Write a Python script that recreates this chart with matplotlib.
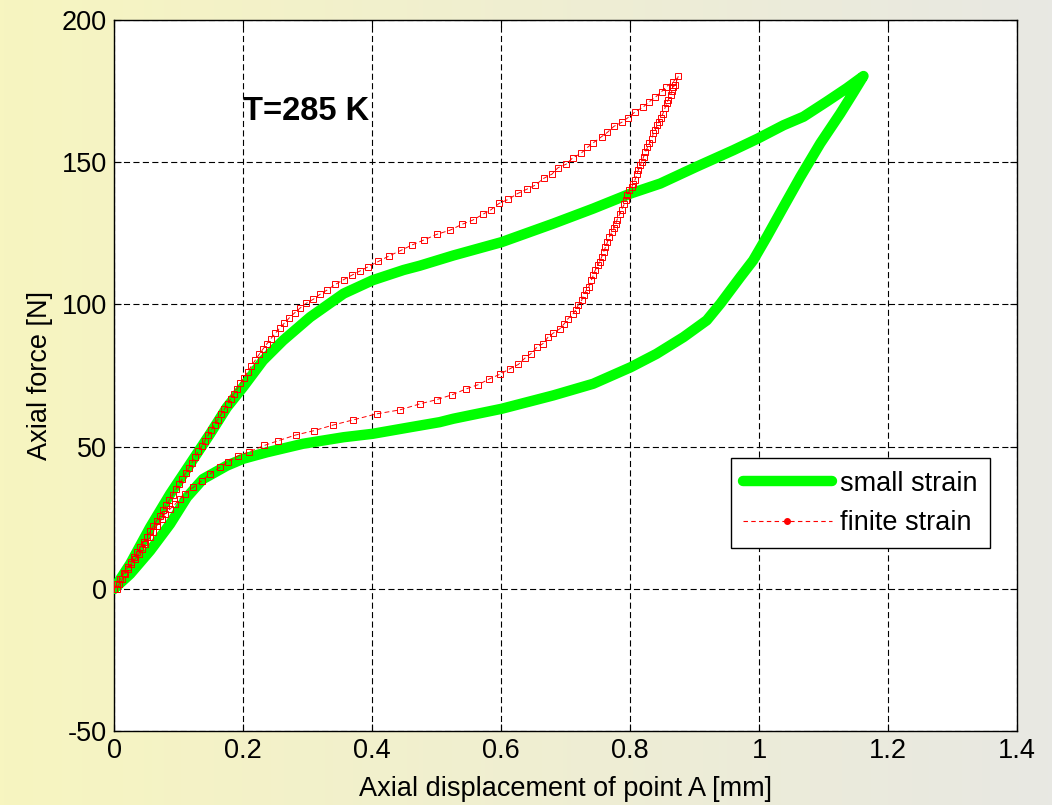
import numpy as np
import matplotlib
matplotlib.use('Agg')
import matplotlib.pyplot as plt
from matplotlib.lines import Line2D

###############################
# Data

# Small strain model, loading branch
small_load_x = [0.000, 0.025, 0.056, 0.087, 0.118, 0.149, 0.175, 0.200, 0.231,
                0.262, 0.304, 0.356, 0.401, 0.449, 0.474, 0.526, 0.601, 0.681,
                0.743, 0.801, 0.847, 0.903, 0.960, 0.998, 1.038, 1.069, 1.105,
                1.136, 1.162]
small_load_y = [0.0, 8.7, 21.6, 33.3, 43.9, 54.5, 63.8, 70.9, 80.3,
                87.3, 95.5, 103.8, 108.5, 112.1, 113.6, 117.2, 121.9, 128.4,
                133.7, 139.0, 142.5, 148.4, 154.2, 158.3, 163.0, 166.0, 171.3,
                176.0, 180.3]

# Small strain model, unloading branch
small_unload_x = [1.162, 1.145, 1.126, 1.095, 1.064, 1.038, 1.012, 0.991, 0.971,
                  0.940, 0.919, 0.883, 0.841, 0.801, 0.743, 0.681, 0.601, 0.526,
                  0.505, 0.459, 0.401, 0.356, 0.293, 0.237, 0.200, 0.175, 0.138,
                  0.113, 0.087, 0.056, 0.025, 0.000]
small_unload_y = [180.3, 174.0, 167.1, 156.6, 144.8, 134.3, 123.7, 115.5, 109.6,
                  100.2, 94.4, 88.5, 82.6, 77.9, 72.1, 68.0, 63.3, 59.8,
                  58.6, 56.8, 54.5, 53.3, 51.0, 48.0, 45.7, 43.3, 38.6,
                  32.2, 22.8, 13.4, 5.2, 0.0]

# Finite strain model, loading branch (one value per marker)
finite_load_x = [0.000, 0.005, 0.010, 0.016, 0.021, 0.026, 0.031, 0.036, 0.041,
                 0.046, 0.051, 0.056, 0.061, 0.066, 0.071, 0.076, 0.081, 0.086,
                 0.091, 0.096, 0.101, 0.106, 0.111, 0.116, 0.121, 0.126, 0.131,
                 0.136, 0.141, 0.146, 0.151, 0.156, 0.161, 0.166, 0.171, 0.176,
                 0.181, 0.186, 0.191, 0.196, 0.201, 0.207, 0.213, 0.219, 0.225,
                 0.231, 0.237, 0.243, 0.250, 0.257, 0.264, 0.272, 0.280, 0.289,
                 0.298, 0.309, 0.319, 0.330, 0.343, 0.356, 0.369, 0.381, 0.394,
                 0.410, 0.427, 0.445, 0.462, 0.480, 0.500, 0.521, 0.539, 0.556,
                 0.572, 0.584, 0.597, 0.611, 0.626, 0.640, 0.653, 0.666, 0.679,
                 0.688, 0.701, 0.711, 0.724, 0.734, 0.743, 0.756, 0.765, 0.775,
                 0.787, 0.797, 0.808, 0.820, 0.830, 0.839, 0.849, 0.856, 0.867,
                 0.875]
finite_load_y = [0.0, 1.8, 3.6, 5.7, 7.5, 9.3, 11.1, 12.9, 14.6,
                 16.4, 18.3, 20.2, 22.0, 23.9, 25.7, 27.6, 29.4, 31.3,
                 33.1, 35.0, 36.8, 38.7, 40.6, 42.5, 44.4, 46.3, 48.3,
                 50.2, 52.1, 54.0, 55.9, 57.7, 59.5, 61.3, 63.1, 65.0,
                 66.8, 68.6, 70.4, 72.2, 74.0, 76.2, 78.3, 80.4, 82.4,
                 84.3, 86.1, 87.9, 89.8, 91.7, 93.4, 95.3, 97.0, 98.8,
                 100.4, 101.8, 103.5, 105.0, 107.0, 108.7, 110.3, 111.7, 113.2,
                 115.1, 117.1, 119.0, 120.9, 122.6, 124.6, 126.1, 128.1, 129.6,
                 131.7, 133.2, 135.5, 136.9, 139.0, 140.5, 141.9, 144.3, 145.8,
                 148.0, 149.3, 151.5, 153.1, 155.2, 156.8, 159.0, 160.5, 162.6,
                 164.0, 165.7, 167.7, 169.3, 171.3, 172.8, 174.8, 176.5, 178.3,
                 180.3]

# Finite strain model, unloading branch (one value per marker)
finite_unload_x = [0.870, 0.866, 0.865, 0.863, 0.859, 0.857, 0.854, 0.851, 0.848,
                   0.845, 0.842, 0.839, 0.836, 0.834, 0.830, 0.827, 0.824, 0.821,
                   0.818, 0.816, 0.813, 0.811, 0.808, 0.805, 0.803, 0.799, 0.796,
                   0.794, 0.791, 0.787, 0.784, 0.780, 0.778, 0.775, 0.772, 0.768,
                   0.765, 0.762, 0.759, 0.756, 0.753, 0.750, 0.746, 0.743, 0.740,
                   0.736, 0.732, 0.728, 0.725, 0.720, 0.716, 0.711, 0.704, 0.698,
                   0.691, 0.681, 0.673, 0.665, 0.656, 0.646, 0.637, 0.627, 0.614,
                   0.598, 0.582, 0.565, 0.546, 0.524, 0.500, 0.474, 0.443, 0.407,
                   0.371, 0.340, 0.310, 0.282, 0.255, 0.233, 0.210, 0.193, 0.177,
                   0.164, 0.149, 0.136, 0.123, 0.110, 0.102, 0.095, 0.087, 0.079,
                   0.074, 0.066, 0.061, 0.056, 0.048, 0.043, 0.038, 0.033, 0.027,
                   0.022, 0.017, 0.013, 0.008, 0.004, 0.000]
finite_unload_y = [177.1, 176.3, 175.1, 173.6, 171.8, 170.7, 168.9, 167.1, 165.7,
                   164.2, 163.0, 161.3, 160.1, 158.3, 156.6, 155.2, 153.6, 151.9,
                   150.1, 148.9, 147.4, 146.0, 143.9, 142.5, 141.3, 140.1, 138.4,
                   136.6, 135.2, 133.3, 131.7, 129.8, 128.4, 126.7, 125.5, 123.7,
                   121.9, 120.2, 118.4, 116.7, 114.9, 113.7, 112.0, 110.2, 108.5,
                   106.1, 104.9, 103.2, 101.4, 99.9, 98.1, 96.5, 95.0, 93.2,
                   91.4, 89.9, 88.5, 86.2, 85.0, 82.6, 81.1, 78.9, 77.4,
                   75.4, 73.8, 71.8, 70.3, 68.2, 66.5, 65.0, 62.9, 61.5,
                   59.4, 57.6, 55.6, 54.1, 52.1, 50.4, 48.2, 46.8, 44.7,
                   42.7, 40.4, 38.0, 35.7, 33.3, 31.6, 29.8, 28.1, 26.3,
                   24.5, 22.2, 19.8, 18.1, 15.7, 14.0, 12.2, 10.5, 8.7,
                   6.9, 5.2, 3.4, 1.7, 0.0, 0.0]

xticks = [0, 0.2, 0.4, 0.6, 0.8, 1, 1.2, 1.4]
xticklabels = ['0', '0.2', '0.4', '0.6', '0.8', '1', '1.2', '1.4']
yticks = [-50, 0, 50, 100, 150, 200]

###############################
# Plot

plt.rcParams['font.family'] = ['Liberation Sans', 'DejaVu Sans']
plt.rcParams['axes.unicode_minus'] = False

W, H = 1052, 805
fig = plt.figure(figsize=(W/100, H/100), dpi=100)

# Gradient background (yellowish left -> grey right)
bg = fig.add_axes([0, 0, 1, 1])
left_col = np.array([247, 245, 192]) / 255.0
right_col = np.array([232, 232, 227]) / 255.0
t = np.linspace(0, 1, 256)
grad = left_col[None, :] * (1 - t[:, None]) + right_col[None, :] * t[:, None]
bg.imshow(grad[None, :, :], aspect='auto', extent=[0, 1, 0, 1])
bg.set_axis_off()

ax = fig.add_axes([114/W, (H-731)/H, 903/W, 711/H])
ax.set_facecolor('white')

ax.plot(small_load_x + small_unload_x, small_load_y + small_unload_y,
        color='#00ff00', lw=7.5, solid_capstyle='round',
        solid_joinstyle='round', zorder=3)

ax.plot(finite_load_x + finite_unload_x, finite_load_y + finite_unload_y,
        color='red', lw=0.7, ls=(0, (5, 3)), marker='s', ms=4.0,
        mfc='none', mec='red', mew=0.7, zorder=4)

ax.set_xlim(0, 1.4)
ax.set_ylim(-50, 200)
ax.set_xticks(xticks)
ax.set_xticklabels(xticklabels)
ax.set_yticks(yticks)
ax.tick_params(direction='in', length=5, labelsize=19.5, pad=5,
               top=True, right=True)
ax.grid(True, color='black', lw=0.8, ls=(0, (5.5, 3)))
for s in ax.spines.values():
    s.set_linewidth(1.0)

ax.set_xlabel('Axial displacement of point A [mm]', fontsize=19.5, labelpad=9)
ax.set_ylabel('Axial force [N]', fontsize=19.5, labelpad=6)

ax.text(0.2, 168, 'T=285 K', fontsize=23.5, fontweight='bold',
        ha='left', va='center', zorder=5)

handles = [Line2D([], [], color='#00ff00', lw=7.5, solid_capstyle='round'),
           Line2D([], [], color='red', lw=0.8, ls=(0, (4, 3)), marker='.',
                  ms=8)]
leg = ax.legend(handles, ['small strain', 'finite strain'],
                loc='lower right', bbox_to_anchor=(0.970, 0.257),
                borderaxespad=0, fontsize=19.5, handlelength=3.3,
                fancybox=False, framealpha=1, edgecolor='black',
                borderpad=0.45, labelspacing=0.5, handletextpad=0.3)
leg.get_frame().set_linewidth(1.0)

plt.savefig('out.png', dpi=100)
